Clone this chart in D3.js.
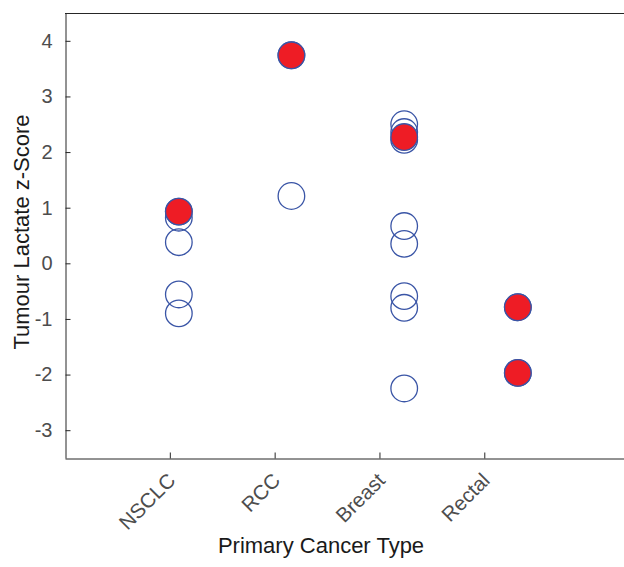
<!DOCTYPE html>
<html><head><meta charset="utf-8">
<script src="https://cdn.jsdelivr.net/npm/d3@7"></script>
<style>body{margin:0;background:#fff}svg{display:block}text{font-family:"Liberation Sans",Arial,Helvetica,sans-serif}</style>
</head><body>
<svg id="c" width="624" height="567"></svg>
<script>
const categories = ["NSCLC","RCC","Breast","Rectal"];
const categoryTicks = [1,2,3,4];
// marker x positions (axis units) for each category
const markerX = [1.086, 2.16, 3.236, 4.32];
// hollow markers: [categoryIndex, value]
const hollowCat = [0,0,0,0,0, 1,1, 2,2,2,2,2,2,2,2, 3,3];
const hollowVal = [0.93,0.82,0.38,-0.56,-0.90, 3.74,1.21, 2.50,2.36,2.22,0.67,0.35,-0.59,-0.80,-2.25, -0.79,-1.97];
// filled (red) markers
const filledCat = [0,1,2,3,3];
const filledVal = [0.93,3.74,2.27,-0.79,-1.97];
const yTicks = [-3,-2,-1,0,1,2,3,4];

const svg = d3.select("#c");
const L=65, R=652, T=13, B=458;
const x = d3.scaleLinear().domain([0,5.6]).range([L,R]);
const y = d3.scaleLinear().domain([-3.5,4.5]).range([B,T]);
const axisCol="#262626";
const ff="'Liberation Sans',Arial,sans-serif";

svg.append("line").attr("x1",L).attr("x2",R).attr("y1",T+0.5).attr("y2",T+0.5).attr("stroke",axisCol);
const ya = svg.append("g").attr("transform",`translate(${L+0.5},0)`)
  .call(d3.axisLeft(y).tickValues(yTicks).tickSizeInner(-5).tickSizeOuter(0).tickPadding(13).tickFormat(d=>String(d)));
ya.select(".domain").attr("stroke",axisCol);
ya.selectAll(".tick line").attr("stroke",axisCol);
ya.selectAll("text").attr("fill","#4d4d4d").style("font-size","20px").style("font-family",ff);

const xa = svg.append("g").attr("transform",`translate(0,${B+0.5})`)
  .call(d3.axisBottom(x).tickValues(categoryTicks).tickSizeInner(-6).tickSizeOuter(0).tickFormat((d,i)=>categories[i]));
xa.select(".domain").attr("stroke",axisCol);
xa.selectAll(".tick line").attr("stroke",axisCol);
xa.selectAll("text").attr("fill","#4d4d4d").style("font-size","20.5px").style("font-family",ff)
  .attr("text-anchor","end").attr("transform","translate(-4,13) rotate(-45)").attr("dy","0.71em").attr("y",0).attr("x",0);

const r=13.3, blue="#3a55a6", red="#ee1c25";
svg.append("g").selectAll("circle").data(hollowVal).join("circle")
  .attr("cx",(d,i)=>x(markerX[hollowCat[i]])).attr("cy",d=>y(d)).attr("r",r)
  .attr("fill","none").attr("stroke",blue).attr("stroke-width",1.3);
svg.append("g").selectAll("circle").data(filledVal).join("circle")
  .attr("cx",(d,i)=>x(markerX[filledCat[i]])).attr("cy",d=>y(d)).attr("r",r)
  .attr("fill",red).attr("stroke",blue).attr("stroke-width",1.3);

svg.append("text").attr("transform",`translate(29,232) rotate(-90)`).attr("text-anchor","middle")
  .attr("fill","#1a1a1a").style("font-size","22px").text("Tumour Lactate z-Score");
svg.append("text").attr("x",321).attr("y",553).attr("text-anchor","middle")
  .attr("fill","#1a1a1a").style("font-size","22px").text("Primary Cancer Type");
</script>
</body></html>
